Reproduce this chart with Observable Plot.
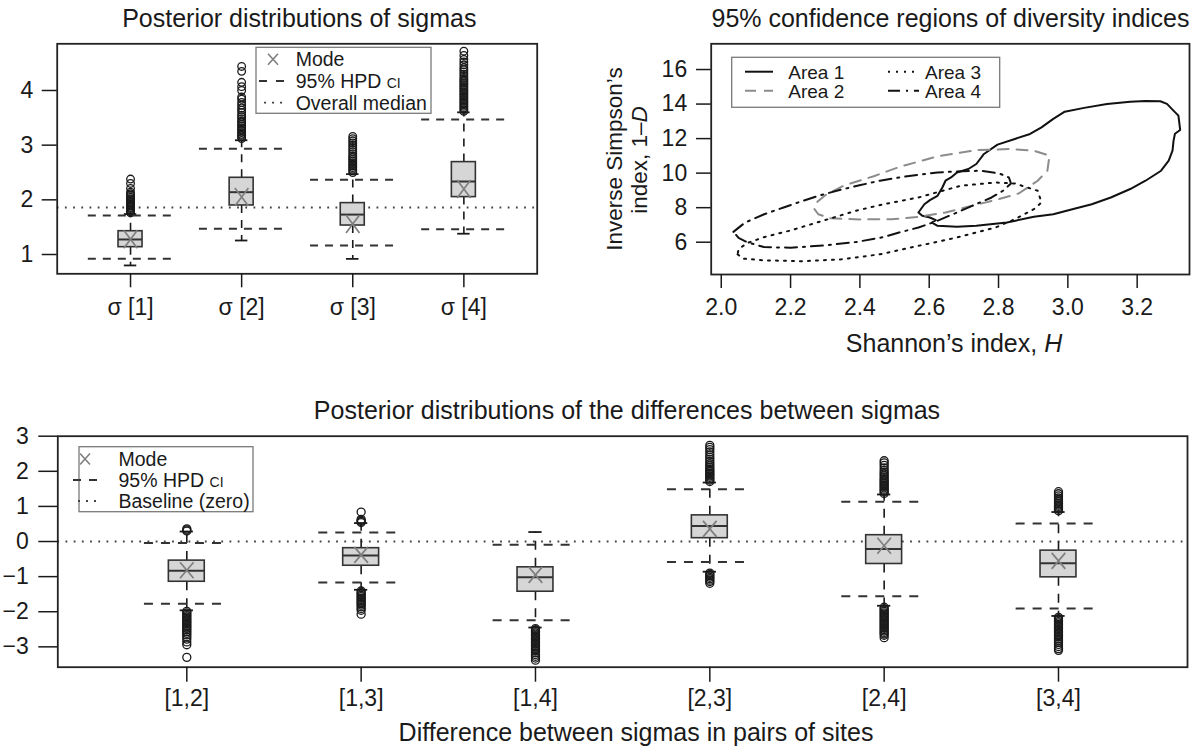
<!DOCTYPE html>
<html>
<head>
<meta charset="utf-8">
<script src="https://cdn.jsdelivr.net/npm/d3@7"></script>
<script src="https://cdn.jsdelivr.net/npm/@observablehq/plot@0.6"></script>
<style>
  body { margin: 0; background: #fff; }
  #fig { position: relative; width: 1194px; height: 747px; overflow: hidden; background: #fff;
         font-family: "Liberation Sans", Arial, Helvetica, sans-serif; color: #1a1a1a; }
  .panel { position: absolute; }
  .t { position: absolute; white-space: nowrap; line-height: 1; transform: translate(-50%, -50%); }
</style>
</head>
<body>
<div id="fig"></div>
<script>
// ---------------- DATA ----------------
// Panel 1: posterior distributions of sigmas
const sigmaLabels = ["σ [1]", "σ [2]", "σ [3]", "σ [4]"];
const sigmaQ1 = [1.134, 1.897, 1.53, 2.05];
const sigmaMedian = [1.275, 2.14, 1.73, 2.335];
const sigmaQ3 = [1.426, 2.403, 1.94, 2.69];
const sigmaWhiskerLow = [0.80, 1.256, 0.92, 1.38];
const sigmaWhiskerHigh = [1.74, 3.09, 2.47, 3.6];
const sigmaHpdLow = [0.92, 1.47, 1.165, 1.46];
const sigmaHpdHigh = [1.714, 2.933, 2.367, 3.47];
const sigmaMode = [1.28, 2.05, 1.56, 2.2];
const sigmaOutliers1 = [1.76, 1.78, 1.80, 1.82, 1.84, 1.86, 1.88, 1.90, 1.92, 1.95, 1.97, 2.00, 2.02, 2.05, 2.08, 2.11, 2.14, 2.21, 2.30, 2.38];
const sigmaOutliers2 = [3.12, 3.15, 3.18, 3.20, 3.23, 3.26, 3.29, 3.32, 3.35, 3.38, 3.41, 3.44, 3.48, 3.52, 3.55, 3.60, 3.64, 3.68, 3.73, 3.78, 3.84, 3.88, 4.00, 4.07, 4.15, 4.35, 4.44];
const sigmaOutliers3 = [2.50, 2.53, 2.56, 2.59, 2.62, 2.65, 2.68, 2.71, 2.74, 2.77, 2.80, 2.84, 2.88, 2.92, 2.96, 3.00, 3.04, 3.08, 3.12, 3.16];
const sigmaOutliers4 = [3.62, 3.65, 3.68, 3.71, 3.74, 3.77, 3.80, 3.83, 3.86, 3.89, 3.92, 3.95, 3.98, 4.01, 4.04, 4.07, 4.10, 4.13, 4.16, 4.19, 4.22, 4.26, 4.30, 4.34, 4.38, 4.42, 4.47, 4.52, 4.57, 4.64, 4.72];
const overallMedian = 1.86;
const sigmaTicks = [1, 2, 3, 4];

// Panel 2: 95% confidence regions (Shannon H, inverse Simpson 1-D)
const areaNames = ["Area 1", "Area 2", "Area 3", "Area 4"];
const area1 = [[2.569,7.72],[2.586,8.20],[2.602,8.44],[2.624,8.69],[2.638,9.17],[2.647,9.56],[2.663,9.75],[2.680,10.04],[2.713,10.24],[2.736,10.53],[2.758,11.11],[2.797,11.65],[2.847,11.98],[2.891,12.27],[2.924,12.65],[2.958,13.14],[2.991,13.56],[3.047,13.78],[3.113,14.01],[3.180,14.13],[3.224,14.18],[3.267,14.16],[3.286,14.01],[3.302,13.68],[3.319,13.33],[3.322,12.85],[3.324,12.50],[3.309,12.28],[3.305,11.88],[3.302,11.30],[3.291,10.72],[3.269,10.14],[3.224,9.56],[3.180,9.08],[3.124,8.59],[3.069,8.20],[3.013,7.91],[2.958,7.62],[2.902,7.47],[2.824,7.14],[2.736,6.95],[2.680,6.89],[2.624,6.95],[2.608,7.14],[2.619,7.28],[2.602,7.43],[2.580,7.53]];
const area2 = [[2.269,7.91],[2.280,7.62],[2.313,7.39],[2.402,7.32],[2.491,7.33],[2.569,7.47],[2.647,7.72],[2.736,8.17],[2.802,8.50],[2.858,8.82],[2.913,9.56],[2.941,10.14],[2.947,11.01],[2.902,11.30],[2.836,11.40],[2.736,11.33],[2.624,10.98],[2.513,10.35],[2.440,9.82],[2.354,9.28],[2.300,8.72],[2.275,8.30]];
const area3 = [[2.047,5.30],[2.063,5.05],[2.124,4.95],[2.236,4.90],[2.347,5.01],[2.458,5.30],[2.569,5.79],[2.680,6.27],[2.791,6.85],[2.847,7.33],[2.902,7.91],[2.924,8.30],[2.913,8.98],[2.847,9.40],[2.791,9.46],[2.691,9.27],[2.569,8.59],[2.469,8.20],[2.392,7.84],[2.296,7.26],[2.200,6.68],[2.123,6.29],[2.075,5.95],[2.050,5.60]];
const area4 = [[2.035,6.60],[2.069,7.14],[2.124,7.62],[2.180,8.01],[2.236,8.40],[2.291,8.75],[2.347,9.05],[2.402,9.31],[2.458,9.56],[2.513,9.75],[2.569,9.91],[2.624,10.04],[2.680,10.10],[2.747,10.14],[2.802,9.98],[2.830,9.75],[2.836,9.40],[2.813,8.98],[2.780,8.59],[2.736,8.21],[2.680,7.72],[2.624,7.24],[2.569,6.85],[2.513,6.56],[2.469,6.30],[2.392,6.02],[2.296,5.81],[2.200,5.68],[2.123,5.72],[2.075,6.00],[2.050,6.25]];
const shannonTicks = [2.0, 2.2, 2.4, 2.6, 2.8, 3.0, 3.2];
const simpsonTicks = [6, 8, 10, 12, 14, 16];

// Panel 3: posterior distributions of differences between sigmas
const pairLabels = ["[1,2]", "[1,3]", "[1,4]", "[2,3]", "[2,4]", "[3,4]"];
const diffQ1 = [-1.146, -0.69, -1.43, 0.095, -0.64, -1.02];
const diffMedian = [-0.83, -0.40, -1.02, 0.44, -0.21, -0.62];
const diffQ3 = [-0.544, -0.19, -0.735, 0.745, 0.18, -0.26];
const diffWhiskerLow = [-1.96, -1.375, -2.45, -0.86, -1.83, -2.12];
const diffWhiskerHigh = [0.285, 0.525, 0.27, 1.68, 1.34, 0.84];
const diffHpdLow = [-1.77, -1.17, -2.24, -0.58, -1.56, -1.91];
const diffHpdHigh = [-0.04, 0.26, -0.09, 1.49, 1.13, 0.51];
const diffMode = [-0.82, -0.38, -0.95, 0.36, -0.12, -0.55];
const diffOutliers12 = [0.30, 0.33, 0.36, -1.99, -2.03, -2.07, -2.11, -2.15, -2.19, -2.23, -2.27, -2.31, -2.35, -2.39, -2.43, -2.47, -2.51, -2.56, -2.61, -2.66, -2.72, -2.78, -2.86, -2.94, -3.30];
const diffOutliers13 = [0.54, 0.57, 0.60, 0.63, 0.84, -1.41, -1.45, -1.49, -1.53, -1.57, -1.61, -1.65, -1.69, -1.73, -1.77, -1.81, -1.86, -1.91, -1.96, -2.07];
const diffOutliers14 = [-2.48, -2.52, -2.56, -2.60, -2.64, -2.68, -2.72, -2.76, -2.80, -2.84, -2.88, -2.92, -2.96, -3.00, -3.04, -3.08, -3.12, -3.17, -3.22, -3.27, -3.32, -3.38];
const diffOutliers23 = [1.71, 1.75, 1.79, 1.83, 1.87, 1.91, 1.95, 1.99, 2.03, 2.07, 2.12, 2.17, 2.22, 2.28, 2.34, 2.40, 2.47, 2.55, 2.62, 2.68, 2.74, -0.90, -0.94, -0.98, -1.02, -1.06, -1.10, -1.14, -1.19];
const diffOutliers24 = [1.37, 1.41, 1.45, 1.49, 1.53, 1.57, 1.61, 1.65, 1.69, 1.73, 1.77, 1.82, 1.87, 1.92, 1.97, 2.03, 2.10, 2.17, 2.24, 2.30, -1.87, -1.91, -1.95, -1.99, -2.03, -2.07, -2.11, -2.15, -2.19, -2.23, -2.27, -2.31, -2.35, -2.39, -2.43, -2.47, -2.51, -2.55, -2.59, -2.63, -2.67, -2.74];
const diffOutliers34 = [0.88, 0.92, 0.96, 1.00, 1.04, 1.08, 1.13, 1.18, 1.24, 1.30, 1.36, 1.42, -2.16, -2.20, -2.24, -2.28, -2.32, -2.36, -2.40, -2.44, -2.48, -2.52, -2.56, -2.60, -2.64, -2.68, -2.72, -2.77, -2.82, -2.87, -2.93, -2.99, -3.05, -3.10];
const baselineValue = 0;
const diffTicks = [-3, -2, -1, 0, 1, 2, 3];

// ---------------- HELPERS ----------------
const FONT = '"Liberation Sans", Arial, Helvetica, sans-serif';
const INK = "#1a1a1a";
const fig = document.getElementById("fig");

function makeSymbol(aspect) {
  return {
    draw(ctx, size) {
      const r = Math.sqrt(size / Math.PI);
      const w = r * aspect;
      ctx.moveTo(-w, -r); ctx.lineTo(w, r);
      ctx.moveTo(w, -r); ctx.lineTo(-w, r);
    }
  };
}

function boxRows(labels, q1, med, q3, wlo, whi, hlo, hhi, mode) {
  return labels.map((label, i) => ({
    pos: i + 1, label, q1: q1[i], median: med[i], q3: q3[i],
    whiLo: wlo[i], whiHi: whi[i], hpdLo: hlo[i], hpdHi: hhi[i], mode: mode[i]
  }));
}

function boxMarks(rows, outRows, o) {
  const dash = o.dash;
  return [
    Plot.ruleX(rows, {x: "pos", y1: "q3", y2: "whiHi", stroke: INK, strokeWidth: 1.6, strokeDasharray: dash}),
    Plot.ruleX(rows, {x: "pos", y1: "q1", y2: "whiLo", stroke: INK, strokeWidth: 1.6, strokeDasharray: dash}),
    Plot.ruleY(rows, {y: "whiHi", x1: d => d.pos - o.capHalf, x2: d => d.pos + o.capHalf, stroke: INK, strokeWidth: 1.8}),
    Plot.ruleY(rows, {y: "whiLo", x1: d => d.pos - o.capHalf, x2: d => d.pos + o.capHalf, stroke: INK, strokeWidth: 1.8}),
    Plot.rect(rows, {x1: d => d.pos - o.boxHalf, x2: d => d.pos + o.boxHalf, y1: "q1", y2: "q3",
                     fill: "#d6d6d6", stroke: "#333", strokeWidth: 1.6}),
    Plot.ruleY(rows, {y: "median", x1: d => d.pos - o.boxHalf, x2: d => d.pos + o.boxHalf, stroke: "#333", strokeWidth: 2}),
    Plot.dot(outRows, {x: "pos", y: "v", r: o.r, stroke: INK, strokeWidth: 1.3, fill: "none"}),
    Plot.ruleY(rows, {y: "hpdLo", x1: d => d.pos - o.hpdHalf, x2: d => d.pos + o.hpdHalf, stroke: "#333", strokeWidth: 2, strokeDasharray: dash}),
    Plot.ruleY(rows, {y: "hpdHi", x1: d => d.pos - o.hpdHalf, x2: d => d.pos + o.hpdHalf, stroke: "#333", strokeWidth: 2, strokeDasharray: dash}),
    Plot.dot(rows, {x: "pos", y: "mode", symbol: makeSymbol(o.aspect), r: o.modeR, stroke: "#7f7f7f", strokeWidth: 1.7, fill: "none"})
  ];
}

function place(el, left, top) {
  const d = document.createElement("div");
  d.className = "panel";
  d.style.left = left + "px";
  d.style.top = top + "px";
  d.appendChild(el);
  fig.appendChild(d);
}

function addText(html, x, y, size, rotate) {
  const d = document.createElement("div");
  d.className = "t";
  d.style.left = x + "px";
  d.style.top = y + "px";
  d.style.fontSize = size + "px";
  if (rotate) d.style.transform = "translate(-50%, -50%) rotate(-90deg)";
  d.innerHTML = html;
  fig.appendChild(d);
}

const minus = d => (d < 0 ? "\u2212" + Math.abs(d) : String(d));
const plotStyle = {fontFamily: FONT, fontSize: "23px", color: INK, background: "transparent", overflow: "visible"};

// ---------------- PANEL 1 ----------------
const rows1 = boxRows(sigmaLabels, sigmaQ1, sigmaMedian, sigmaQ3, sigmaWhiskerLow, sigmaWhiskerHigh, sigmaHpdLow, sigmaHpdHigh, sigmaMode);
const out1 = [sigmaOutliers1, sigmaOutliers2, sigmaOutliers3, sigmaOutliers4].flatMap((a, i) => a.map(v => ({pos: i + 1, v})));
const p1 = Plot.plot({
  width: 590, height: 340,
  marginLeft: 56.7, marginRight: 53.3, marginTop: 43.3, marginBottom: 66.7,
  x: {domain: [0.34, 4.66]},
  y: {domain: [0.647, 4.854]},
  style: plotStyle,
  marks: [
    Plot.ruleY([overallMedian], {stroke: "#444", strokeWidth: 1.8, strokeDasharray: "1.8,6.4"}),
    ...boxMarks(rows1, out1, {boxHalf: 0.108, capHalf: 0.056, hpdHalf: 0.38, r: 3.8, modeR: 9, aspect: 0.75, dash: "8,7"}),
    Plot.frame({stroke: "#222", strokeWidth: 1.8}),
    Plot.axisX({ticks: sigmaTicks, tickFormat: d => sigmaLabels[d - 1], tickSize: 14, tickPadding: 11, label: null, strokeWidth: 1.5}),
    Plot.axisY({ticks: sigmaTicks, tickFormat: d => String(d), tickSize: 15, tickPadding: 9, label: null, strokeWidth: 1.5})
  ]
});
place(p1, 0, 0);

// ---------------- PANEL 2 ----------------
const areaData = [area1, area2, area3, area4].map((pts, i) =>
  pts.concat([pts[0]]).map(([h, d]) => ({area: areaNames[i], h, d})));
const areaStyles = [
  {stroke: "#111", strokeDasharray: null},
  {stroke: "#8c8c8c", strokeDasharray: "11,8"},
  {stroke: "#111", strokeDasharray: "2,6"},
  {stroke: "#111", strokeDasharray: "12,6,2,6"}
];
const p2 = Plot.plot({
  width: 604, height: 370,
  marginLeft: 120.7, marginRight: 5, marginTop: 43.3, marginBottom: 96,
  x: {domain: [1.971, 3.351]},
  y: {domain: [4.13, 17.49]},
  style: plotStyle,
  marks: [
    ...areaData.map((rows, i) => Plot.line(rows, {x: "h", y: "d", stroke: areaStyles[i].stroke,
      strokeWidth: 2, strokeDasharray: areaStyles[i].strokeDasharray, strokeLinejoin: "round"})),
    Plot.frame({stroke: "#222", strokeWidth: 1.8}),
    Plot.axisX({ticks: shannonTicks, tickFormat: d => d.toFixed(1), tickSize: 14, tickPadding: 10.5, label: null, strokeWidth: 1.5}),
    Plot.axisY({ticks: simpsonTicks, tickFormat: d => String(d), tickSize: 14.7, tickPadding: 9.3, label: null, strokeWidth: 1.5})
  ]
});
place(p2, 590, 0);

// ---------------- PANEL 3 ----------------
const rows3 = boxRows(pairLabels, diffQ1, diffMedian, diffQ3, diffWhiskerLow, diffWhiskerHigh, diffHpdLow, diffHpdHigh, diffMode);
const out3 = [diffOutliers12, diffOutliers13, diffOutliers14, diffOutliers23, diffOutliers24, diffOutliers34]
  .flatMap((a, i) => a.map(v => ({pos: i + 1, v})));
const p3 = Plot.plot({
  width: 1194, height: 367,
  marginLeft: 57.3, marginRight: 7, marginTop: 55.7, marginBottom: 80.3,
  x: {domain: [0.26, 6.74]},
  y: {domain: [-3.58, 3.0]},
  style: plotStyle,
  marks: [
    Plot.ruleY([baselineValue], {stroke: "#444", strokeWidth: 1.8, strokeDasharray: "1.8,6.4"}),
    ...boxMarks(rows3, out3, {boxHalf: 0.103, capHalf: 0.038, hpdHalf: 0.243, r: 4, modeR: 8, aspect: 0.85, dash: "9,8"}),
    Plot.frame({stroke: "#222", strokeWidth: 1.8}),
    Plot.axisX({ticks: rows3.map(d => d.pos), tickFormat: d => pairLabels[d - 1], tickSize: 15, tickPadding: 7, label: null, strokeWidth: 1.5}),
    Plot.axisY({ticks: diffTicks, tickFormat: minus, tickSize: 19, tickPadding: 10, label: null, strokeWidth: 1.5})
  ]
});
place(p3, 0, 380);

// ---------------- TITLES & AXIS LABELS ----------------
addText("Posterior distributions of sigmas", 299.3, 18, 25);
addText("95% confidence regions of diversity indices", 950.5, 18, 25);
addText("Shannon\u2019s index, <i>H</i>", 954, 343, 25);
addText("Inverse Simpson\u2019s", 615, 159, 22.5, true);
addText("index, 1\u2013<i>D</i>", 640, 160, 22.5, true);
addText("Posterior distributions of the differences between sigmas", 627, 410, 25);
addText("Difference between sigmas in pairs of sites", 636, 731.5, 25);

// ---------------- LEGENDS ----------------
const lg = d3.create("svg").attr("width", 1194).attr("height", 747)
  .style("position", "absolute").style("left", "0px").style("top", "0px")
  .style("overflow", "visible").style("font-family", FONT);

function legendBox(x, y, w, h) {
  lg.append("rect").attr("x", x).attr("y", y).attr("width", w).attr("height", h)
    .attr("fill", "white").attr("stroke", "#7a7a7a").attr("stroke-width", 1.3);
}
function legendText(x, y, size, parts) {
  const t = lg.append("text").attr("x", x).attr("y", y).attr("dy", "0.36em")
    .attr("font-size", size).attr("fill", INK);
  parts.forEach(([s, fs]) => { const sp = t.append("tspan").text(s); if (fs) sp.attr("font-size", fs); });
}
function legendLine(x1, x2, y, stroke, dash, width) {
  lg.append("line").attr("x1", x1).attr("x2", x2).attr("y1", y).attr("y2", y)
    .attr("stroke", stroke).attr("stroke-width", width || 2).attr("stroke-dasharray", dash);
}
function legendX(cx, cy, hw, hh) {
  lg.append("path").attr("d", `M${cx - hw},${cy - hh}L${cx + hw},${cy + hh}M${cx + hw},${cy - hh}L${cx - hw},${cy + hh}`)
    .attr("stroke", "#7f7f7f").attr("stroke-width", 1.6).attr("fill", "none");
}

// Legend panel 1
legendBox(256, 47.3, 175, 66);
legendX(273, 59.3, 5, 5.5);
legendLine(259, 286, 81, "#333", "8,9");
legendLine(264, 286, 102.7, "#444", "2,6", 1.8);
legendText(295.7, 59.3, 19.5, [["Mode"]]);
legendText(295.7, 81, 19.5, [["95% HPD "], ["CI", 14]]);
legendText(295.7, 102.7, 19.5, [["Overall median"]]);

// Legend panel 2
legendBox(731.7, 57.3, 268, 50);
legendLine(745, 773, 71.7, "#111", null);
legendLine(745, 773, 90.7, "#8c8c8c", "11,8");
legendLine(888, 919, 71.7, "#111", "2,6");
legendLine(888, 919, 90.7, "#111", "12,6,2,6");
legendText(788.3, 71.7, 19, [[areaNames[0]]]);
legendText(788.3, 90.7, 19, [[areaNames[1]]]);
legendText(925, 71.7, 19, [[areaNames[2]]]);
legendText(925, 90.7, 19, [[areaNames[3]]]);

// Legend panel 3
legendBox(79, 446.7, 174, 65);
legendX(85, 459, 5, 5.5);
legendLine(73, 97, 480, "#333", "8,8");
legendLine(78, 97, 501, "#444", "2,6", 1.8);
legendText(118.5, 459, 19.5, [["Mode"]]);
legendText(118.5, 480, 19.5, [["95% HPD "], ["CI", 14]]);
legendText(118.5, 501, 19.5, [["Baseline (zero)"]]);

fig.appendChild(lg.node());
</script>
</body>
</html>
